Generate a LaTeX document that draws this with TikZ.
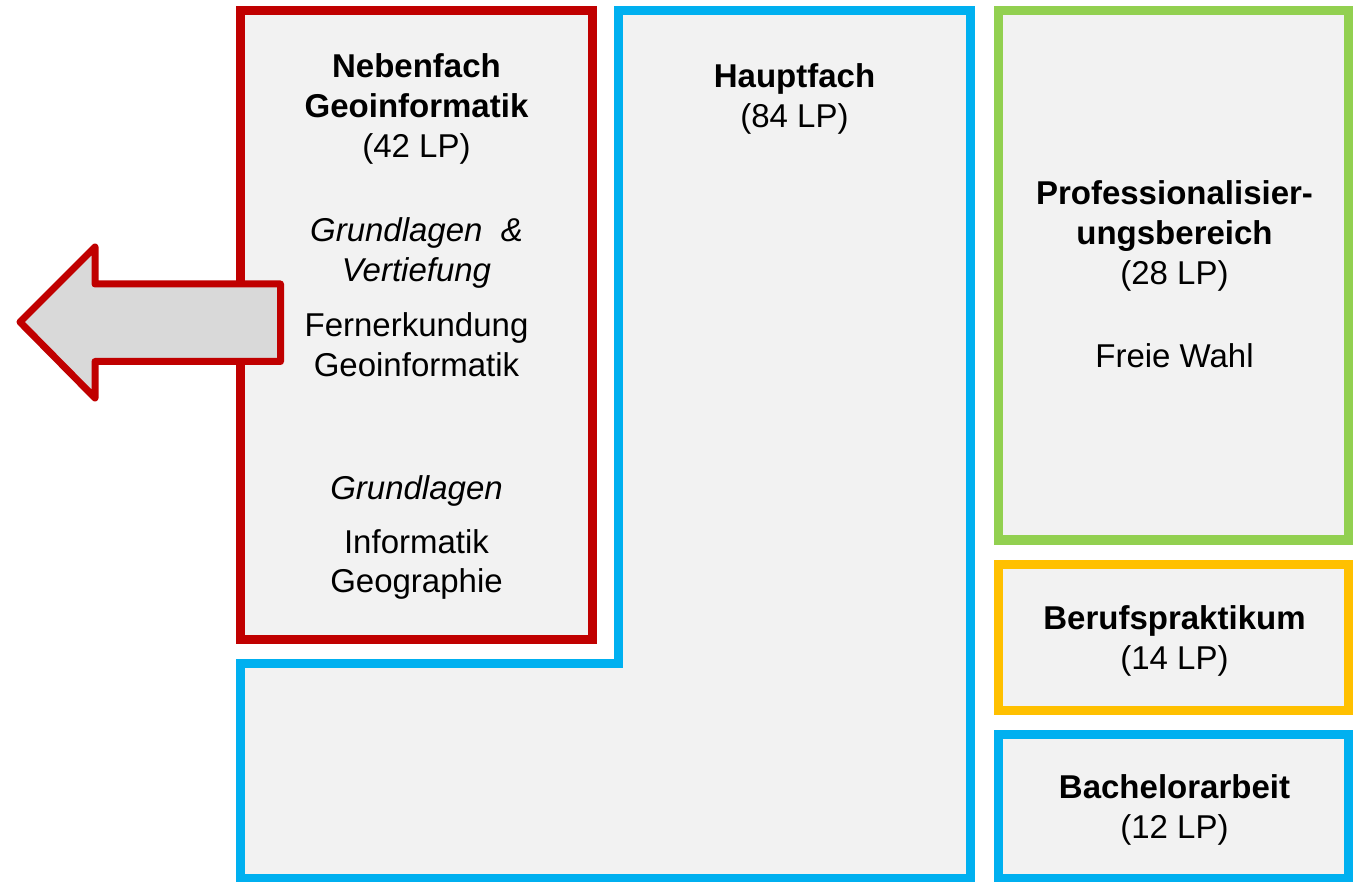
\documentclass[tikz,border=0pt]{standalone}
\usepackage{fontspec}
\setmainfont{Liberation Sans}
\definecolor{rotfach}{HTML}{C00000}
\definecolor{blaufach}{HTML}{00B0F0}
\definecolor{gruenfach}{HTML}{92D050}
\definecolor{gelbfach}{HTML}{FFC000}
\definecolor{boxgrau}{HTML}{F2F2F2}
\definecolor{pfeilgrau}{HTML}{D9D9D9}

\begin{document}
\begin{tikzpicture}[x=1pt, y=-1pt,
  fachbox/.style={draw, line width=9pt, fill=boxgrau, inner sep=0pt},
  txt/.style={anchor=base, inner sep=0pt, font=\fontsize{33}{40}\selectfont},
  txtb/.style={txt, font=\fontsize{33}{40}\selectfont\bfseries},
  txti/.style={txt, font=\fontsize{33}{40}\selectfont\itshape}]

\useasboundingbox (0,0) rectangle (1353,882);

% Hauptfach (L-Form)
\draw [blaufach, line width=9pt, fill=boxgrau] (240.5,878) -- (240.5,663.5) -- (618.5,663.5)
  -- (618.5,10.5) -- (970.5,10.5) -- (970.5,878) -- cycle;
\node[txtb] (haupt) at (794.5,88) {Hauptfach};
\node[txt] (hauptlp) at (794.5,128) {(84 LP)};

% Nebenfach
\node[fachbox, draw=rotfach, minimum width=352pt, minimum height=628.5pt] (neben) at (416.5,324.75) {};
\node[txtb] (neben1) at (416.5,78) {Nebenfach};
\node[txtb] (neben2) at (416.5,118) {Geoinformatik};
\node[txt] (nebenlp) at (416.5,158) {(42 LP)};
\node[txti] (gv1) at (416.5,242) {Grundlagen~~\&};
\node[txti] (gv2) at (416.5,282) {Vertiefung};
\node[txt] (fe) at (416.5,337) {Fernerkundung};
\node[txt] (gi) at (416.5,377) {Geoinformatik};
\node[txti] (gl) at (416.5,500) {Grundlagen};
\node[txt] (inf) at (416.5,553) {Informatik};
\node[txt] (geo) at (416.5,592) {Geographie};

% Pfeil
\draw [rotfach, line width=7pt, line join=round, fill=pfeilgrau] (20,322) -- (95,247) -- (95,284)
  -- (280.5,284) -- (280.5,361.5) -- (95,361.5) -- (95,398) -- cycle;

% rechte Spalte
\node[fachbox, draw=gruenfach, minimum width=350pt, minimum height=529.5pt] (prof) at (1173.5,275.25) {};
\node[txtb] (prof1) at (1174.5,205) {Professionalisier-};
\node[txtb] (prof2) at (1174.5,245) {ungsbereich};
\node[txt] (proflp) at (1174.5,285) {(28 LP)};
\node[txt] (frei) at (1174.5,368) {Freie Wahl};

\node[fachbox, draw=gelbfach, minimum width=350pt, minimum height=145.5pt] (beruf) at (1173.5,637.25) {};
\node[txtb] (beruf1) at (1174.5,629) {Berufspraktikum};
\node[txt] (beruflp) at (1174.5,669) {(14 LP)};

\node[fachbox, draw=blaufach, minimum width=350pt, minimum height=143.5pt] (ba) at (1173.5,806.25) {};
\node[txtb] (ba1) at (1174.5,798) {Bachelorarbeit};
\node[txt] (balp) at (1174.5,838) {(12 LP)};
\end{tikzpicture}
\end{document}
